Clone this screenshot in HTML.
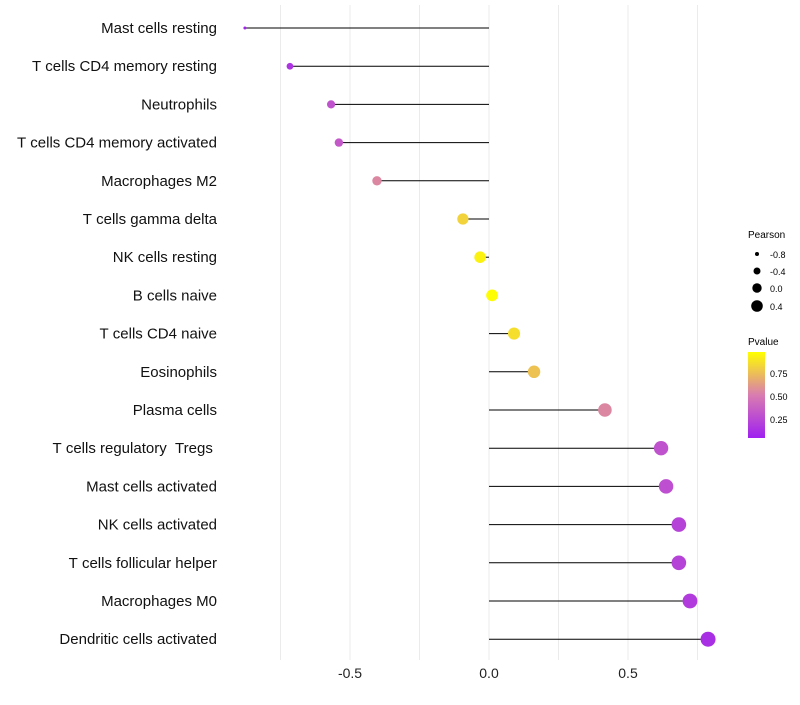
<!DOCTYPE html>
<html><head><meta charset="utf-8"><style>
body{margin:0;background:#fff;font-family:"Liberation Sans",sans-serif}
</style></head><body>
<svg id="chart" width="800" height="700" xmlns="http://www.w3.org/2000/svg">
<defs><linearGradient id="pg" x1="0" y1="1" x2="0" y2="0">
<stop offset="0" stop-color="#a020f0"/><stop offset="0.5" stop-color="#d97cb0"/><stop offset="1" stop-color="#ffff00"/></linearGradient></defs>
<g id="grid"></g><g id="marks"></g><g id="labels"></g>
<g font-size="10">
<text x="748" y="238">Pearson</text>
<circle cx="757" cy="254" r="2" fill="#000"/><text x="770" y="258" font-size="9">-0.8</text>
<circle cx="757" cy="271" r="3.5" fill="#000"/><text x="770" y="275" font-size="9">-0.4</text>
<circle cx="757" cy="288" r="4.7" fill="#000"/><text x="770" y="292" font-size="9">0.0</text>
<circle cx="757" cy="306" r="5.8" fill="#000"/><text x="770" y="310" font-size="9">0.4</text>
<text x="748" y="345">Pvalue</text>
<rect x="748" y="352" width="17" height="86" fill="url(#pg)"/>
<text x="770" y="377" font-size="9">0.75</text><text x="770" y="400" font-size="9">0.50</text><text x="770" y="423" font-size="9">0.25</text>
</g>
</svg>
<script>
const categories=["Mast cells resting","T cells CD4 memory resting","Neutrophils","T cells CD4 memory activated","Macrophages M2","T cells gamma delta","NK cells resting","B cells naive","T cells CD4 naive","Eosinophils","Plasma cells","T cells regulatory  Tregs ","Mast cells activated","NK cells activated","T cells follicular helper","Macrophages M0","Dendritic cells activated"];
const pearson=[-0.878,-0.716,-0.568,-0.54,-0.403,-0.094,-0.032,0.011,0.09,0.162,0.417,0.619,0.637,0.683,0.683,0.723,0.788];
const pvalues=[0.05,0.15,0.3,0.33,0.55,0.82,0.93,0.97,0.86,0.76,0.55,0.3,0.28,0.22,0.22,0.18,0.12];
const xTicks=[-0.5,0,0.5];
const xTickLabels=["-0.5","0.0","0.5"];
const ns="http://www.w3.org/2000/svg";
const xs=v=>489+v*278;
const ys=i=>28+i*38.2;
function col(p){const a=[160,32,240],b=[217,124,176],c=[255,255,0];let t,u,w;
 const q=(p-0.043)/(0.978-0.043);const k=Math.max(0,Math.min(1,q));
 if(k<0.5){t=k*2;u=a;w=b}else{t=(k-0.5)*2;u=b;w=c}
 return `rgb(${u.map((x,j)=>Math.round(x+(w[j]-x)*t)).join(',')})`;}
function mk(tag,at,par){const e=document.createElementNS(ns,tag);for(const k in at)e.setAttribute(k,at[k]);document.getElementById(par).appendChild(e);return e;}
[-0.75,-0.5,-0.25,0,0.25,0.5,0.75].forEach(v=>{const l=mk('line',{x1:xs(v),x2:xs(v),y1:5,y2:660,stroke:'#ebebeb','stroke-width':1},'grid');

});
xTicks.forEach((v,i)=>{const t=mk('text',{x:xs(v),y:678,'text-anchor':'middle','font-size':14,fill:'#222'},'labels');t.textContent=xTickLabels[i];

});
categories.forEach((c,i)=>{const y=ys(i);
const t=mk('text',{x:217,y:y+5,'text-anchor':'end','font-size':15,fill:'#111'},'labels');t.textContent=c.replace(/ /g,'\u00a0');


const l=mk('line',{x1:xs(0),x2:xs(pearson[i]),y1:y,y2:y,stroke:'#000','stroke-width':1},'marks');


const r=1.5+6*Math.sqrt(Math.max(0,(pearson[i]+0.878)/1.666));
const d=mk('circle',{cx:xs(pearson[i]),cy:y,r:r,fill:col(pvalues[i])},'marks');

});
</script>
</body></html>
